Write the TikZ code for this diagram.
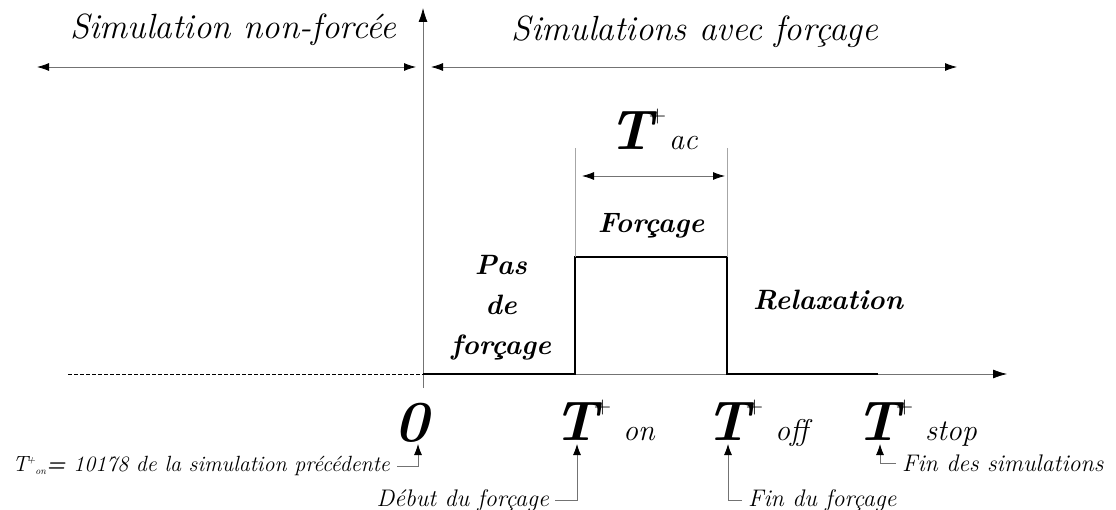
\documentclass[tikz,border=0pt]{standalone}
\usepackage{fontspec}
\usetikzlibrary{arrows.meta}
\newcommand{\fsz}[1]{\fontsize{#1}{#1}\selectfont}
\newcommand{\BigT}[2]{{\fsz{56}\bfseries\itshape T}\hspace{-4pt}\raisebox{27pt}{\fsz{24}+}\hspace{#1}{\fsz{30}\itshape #2}}
\tikzset{
  thinline/.style={draw=black!55, line width=0.8pt},
  sig/.style={draw=black, line width=2.6pt, line join=miter},
  dbl/.style={thinline, {Latex[length=12pt,width=8pt,black]}-{Latex[length=12pt,width=8pt,black]}},
  uparr/.style={thinline, -{Latex[length=11pt,width=8pt,black]}},
  lab/.style={font=\fsz{24}\itshape, inner sep=0pt},
  head/.style={font=\fsz{35}\itshape, inner sep=0pt},
  mid/.style={font=\fsz{28}\bfseries\itshape, inner sep=0pt, align=center},
}
\begin{document}
\begin{tikzpicture}[x=1pt,y=-1pt]
\useasboundingbox (0,0) rectangle (1116,510);
% coordinates
\coordinate (o) at (423,374);
\coordinate (ytop) at (423,8);
\coordinate (ybot) at (423,388);
\coordinate (xend) at (1007,374);
\coordinate (dstart) at (68,374);
\coordinate (a1) at (575,374);
\coordinate (a2) at (575,257);
\coordinate (a3) at (727,257);
\coordinate (a4) at (727,374);
\coordinate (a5) at (878,374);
\coordinate (g1) at (575,148);
\coordinate (g2) at (727,148);
\coordinate (t1) at (582,176);
\coordinate (t2) at (725,176);
\coordinate (l1) at (37,67);
\coordinate (l2) at (416,67);
\coordinate (r1) at (431,67);
\coordinate (r2) at (957,67);
% axes
\draw[thinline, -{Latex[length=14pt,width=9pt,black]}] (ybot) -- (ytop);
\draw[thinline, -{Latex[length=14pt,width=9pt,black]}] (o) -- (xend);
\draw[draw=black, line width=1pt, dash pattern=on 4pt off 2pt] (dstart) -- (o);
\draw[sig] (o) -- (a1) -- (a2) -- (a3) -- (a4) -- (a5);
\draw[draw=black!35, line width=0.6pt] (g1) -- (a2);
\draw[draw=black!35, line width=0.6pt] (g2) -- (a3);
\draw[dbl] (t1) -- (t2);
\draw[dbl] (l1) -- (l2);
\draw[dbl] (r1) -- (r2);
% headings
\node[head] (h1) at (233,30) {Simulation non-forcée};
\node[head] (h2) at (695,32) {Simulations avec forçage};
% Tac
\node[inner sep=0pt, anchor=base west] (tac) at (608,150) {\BigT{3pt}{ac}};
\node[mid] (forc) at (651,226) {Forçage};
\node[mid, font=\fontsize{28}{40}\selectfont\bfseries\itshape] (pas) at (501,308) {Pas\\de\\forçage};
\node[mid] (relax) at (828,300) {Relaxation};
% axis labels
\node[inner sep=0pt, anchor=base] (zero) at (412,441) {\fsz{58}\bfseries\itshape 0};
\node[inner sep=0pt, anchor=base west] (ton) at (553,440) {\BigT{12pt}{on}};
\node[inner sep=0pt, anchor=base west] (toff) at (705,440) {\BigT{12pt}{off}};
\node[inner sep=0pt, anchor=base west] (tstop) at (855,440) {\BigT{12pt}{stop}};
% annotations
\coordinate (z0) at (418,444);
\coordinate (z1) at (418,466);
\coordinate (z2) at (397,466);
\coordinate (n0) at (577,444);
\coordinate (n1) at (577,500);
\coordinate (n2) at (555,500);
\coordinate (f0) at (728,444);
\coordinate (f1) at (728,500);
\coordinate (f2) at (742,500);
\coordinate (s0) at (880,444);
\coordinate (s1) at (880,463);
\coordinate (s2) at (896,463);
\node[lab, font=\fsz{22}\itshape, anchor=east] (prev) at (390,466) {T\hspace{-1pt}\raisebox{8pt}{\fsz{11}+}\raisebox{-3pt}{\fsz{10}on}\textbf{=} 10178 de la simulation précédente};
\node[lab, anchor=east] (deb) at (549,500) {Début du forçage};
\node[lab, anchor=west] (fin) at (748,500) {Fin du forçage};
\node[lab, anchor=west] (fins) at (902,463) {Fin des simulations};
\draw[uparr] (z2) -- (z1) -- (z0);
\draw[uparr] (n2) -- (n1) -- (n0);
\draw[uparr] (f2) -- (f1) -- (f0);
\draw[uparr] (s2) -- (s1) -- (s0);
\end{tikzpicture}
\end{document}
